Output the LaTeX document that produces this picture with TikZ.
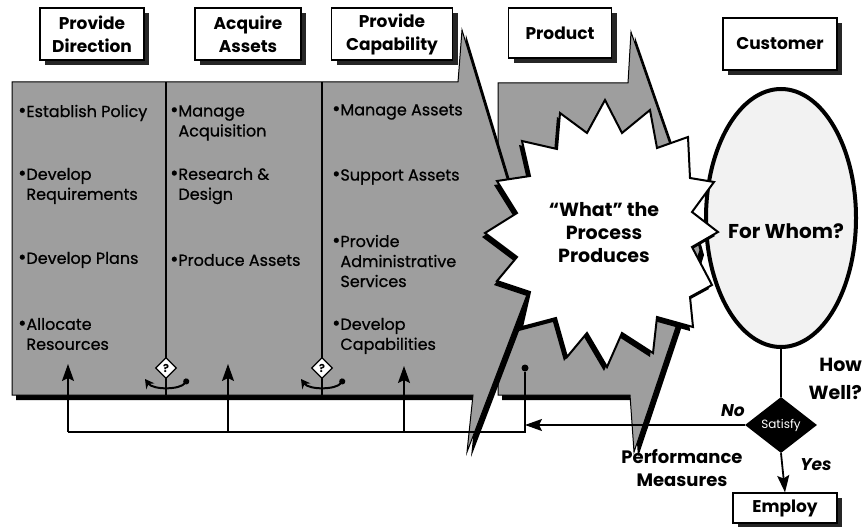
\documentclass[tikz,border=0pt]{standalone}
\usepackage{fontspec}
\setmainfont{Poppins}
\usetikzlibrary{arrows.meta,shapes.geometric,shadows}

\newcommand\bdot{{\fontsize{20}{16}\selectfont\textbullet}}
\newcommand\bsp{\phantom{\bdot}}

% outlines of the gray panels and of the burst
\def\panelA{(12,82) -- (458,82) -- (462,30) -- (512,195) -- (528,292)
  -- (467,452) -- (473,395) -- (12,395) -- cycle}
\def\panelB{(498,83) -- (628,83) -- (631,32) -- (672,150) -- (700,250)
  -- (676,327) -- (634,452) -- (630,395) -- (498,395) -- cycle}
\def\burst{(605,100) -- (622,133) -- (650,110) -- (657,148) -- (688,137)
  -- (690,178) -- (714,182) -- (692,212) -- (718,232) -- (692,247)
  -- (712,285) -- (690,297) -- (693,327) -- (657,317) -- (653,353)
  -- (622,333) -- (607,367) -- (587,333) -- (567,357) -- (556,318)
  -- (522,327) -- (530,292) -- (497,281) -- (517,257) -- (485,233)
  -- (517,213) -- (497,181) -- (530,176) -- (522,141) -- (557,149)
  -- (560,113) -- (587,133) -- cycle}

\begin{document}
\begin{tikzpicture}[x=1pt,y=-1pt,
  head box/.style={draw,fill=white,line width=1.2pt,align=center,
    font=\fontsize{17}{23}\selectfont\bfseries,inner sep=0pt,
    general shadow={fill=black!85,shadow xshift=5pt,shadow yshift=-5pt}},
  item/.style={anchor=west,align=left,inner sep=0pt,
    font=\fontsize{16}{20}\selectfont\addfontfeatures{FakeBold=0.8}},
  big text/.style={align=center,inner sep=0pt,
    font=\fontsize{19}{23}\selectfont\bfseries},
  panel/.style={fill=black!38,draw=black,line width=1pt},
  query/.style={diamond,draw,fill=white,line width=1.2pt,inner sep=0.5pt,
    minimum size=21pt,font=\fontsize{11}{11}\selectfont\bfseries},
  dot/.style={circle,fill=black,inner sep=0pt,minimum size=7pt},
  link/.style={line width=1.8pt},
  arrow/.style={link,-{Stealth[length=17pt,width=12pt,inset=3pt]}}]

  \useasboundingbox (0,0) rectangle (865,527);

  % process panels
  \fill[shift={(4,5)}] \panelB;
  \path[panel] \panelB;
  \fill[shift={(4,5)}] \panelA;
  \path[panel] \panelA;
  \draw[line width=1.2pt] (166,82) -- (166,395);
  \draw[line width=1.2pt] (322,82) -- (322,395);

  \node[query] (q1) at (166,368) {?};
  \node[query] (q2) at (322,368) {?};
  \foreach \q in {q1,q2}
    \draw[{Stealth[length=9pt,width=10pt]}-{Circle[length=6pt]},line width=2pt]
      ([shift={(-21,11)}]\q.center) .. controls +(8,11) and +(-8,11)
      .. ([shift={(22,11)}]\q.center);

  \node[item] (d1) at (18,113) {\bdot Establish Policy};
  \node[item] (d2) at (18,186) {\bdot Develop\\\bsp Requirements};
  \node[item] (d3) at (18,260) {\bdot Develop Plans};
  \node[item] (d4) at (18,334) {\bdot Allocate\\\bsp Resources};

  \node[item] (a1) at (170,123) {\bdot Manage\\\bsp Acquisition};
  \node[item] (a2) at (170,186) {\bdot Research \&\\\bsp Design};
  \node[item] (a3) at (170,260) {\bdot Produce Assets};

  \node[item] (c1) at (332,112) {\bdot Manage Assets};
  \node[item] (c2) at (332,177) {\bdot Support Assets};
  \node[item] (c3) at (332,261) {\bdot Provide\\\bsp Administrative\\\bsp Services};
  \node[item] (c4) at (332,336) {\bdot Develop\\\bsp Capabilities};

  % customer
  \node[ellipse,draw,line width=4pt,fill=black!5,inner sep=0pt,
    minimum width=150pt,minimum height=258pt] (cust) at (781,218) {};
  \node[big text,font=\fontsize{20}{23}\selectfont\bfseries] (whom) at (786,231) {For Whom?};

  % product burst
  \fill[shift={(-3,4)}] \burst;
  \draw[fill=white,line width=2pt] \burst;
  \node[big text] (what) at (604,233) {“What” the\\Process\\Produces};

  % headings
  \node[head box,minimum width=104pt,minimum height=52pt] (dir) at (92,34) {Provide\\Direction};
  \node[head box,minimum width=106pt,minimum height=52pt] (acq) at (248,34) {Acquire\\Assets};
  \node[head box,minimum width=121pt,minimum height=52pt] (cap) at (392,34) {Provide\\Capability};
  \node[head box,minimum width=103pt,minimum height=50pt] (prod) at (560,33) {Product};
  \node[head box,minimum width=114pt,minimum height=52pt] (cuhd) at (780,44) {Customer};

  % performance check
  \node[diamond,aspect=1.3,fill=black,text=white,inner sep=0pt,
    minimum width=72pt,minimum height=56pt,
    font=\fontsize{12}{12}\selectfont] (sat) at (781,425) {Satisfy};
  \node[head box,minimum width=104pt,minimum height=30pt] (emp) at (785,508) {Employ};
  \node[big text,anchor=east,align=right,font=\fontsize{19}{28}\selectfont\bfseries]
    (well) at (862,379) {How\\Well?};
  \node[big text,font=\fontsize{17}{17}\selectfont\bfseries\itshape] (no) at (733,411) {No};
  \node[big text,font=\fontsize{17}{17}\selectfont\bfseries\itshape] (yes) at (816,465) {Yes};
  \node[big text,font=\fontsize{18}{23}\selectfont\bfseries] (meas) at (682,468) {Performance\\Measures};

  \node[dot] (pm) at (525,368) {};
  \coordinate (f1) at (68,432);
  \coordinate (f2) at (228,432);
  \coordinate (f3) at (404,432);
  \coordinate (f4) at (525,432);
  \coordinate (t1) at (68,364);
  \coordinate (t2) at (228,364);
  \coordinate (t3) at (404,366);

  \draw[link] (cust.south) -- (sat.north);
  \draw[arrow] (sat.south) -- (emp.north);
  \draw[arrow] (sat.west) -- (sat.west -| pm);
  \draw[link] (pm) -- (f4) -- (f1);
  \draw[arrow] (f1) -- (t1);
  \draw[arrow] (f2) -- (t2);
  \draw[arrow] (f3) -- (t3);
\end{tikzpicture}
\end{document}
